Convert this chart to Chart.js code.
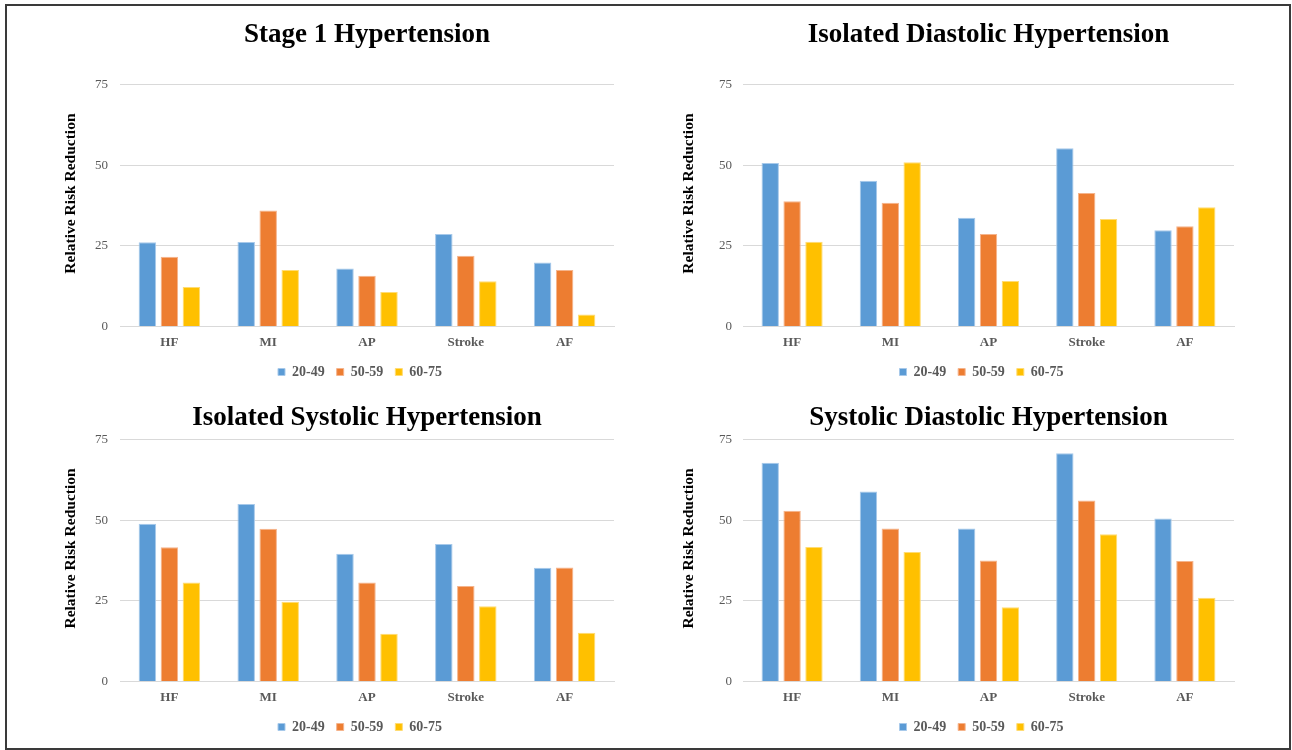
<!DOCTYPE html>
<html>
<head>
<meta charset="utf-8">
<script src="https://cdn.jsdelivr.net/npm/chart.js@4.4.0/dist/chart.umd.min.js"></script>
<style>
  body { margin: 0; background: #fff; width: 1292px; height: 750px; overflow: hidden; position: relative; }
  #frame { position: absolute; left: 5px; top: 4px; width: 1282px; height: 742px; border: 2px solid #3a3a3a; }
  .cell { position: absolute; width: 630px; }
</style>
</head>
<body>
<div id="frame"></div>
<div class="cell" style="left:10px; top:10px; height:379px;"><canvas id="c1"></canvas></div>
<div class="cell" style="left:633px; top:10px; height:379px;"><canvas id="c2"></canvas></div>
<div class="cell" style="left:10px; top:372px; height:372px;"><canvas id="c3"></canvas></div>
<div class="cell" style="left:633px; top:372px; height:372px;"><canvas id="c4"></canvas></div>
<script>
const categories = ['HF', 'MI', 'AP', 'Stroke', 'AF'];
const ageGroups = ['20-49', '50-59', '60-75'];
const yTickValues = [0, 25, 50, 75];

// Stage 1 Hypertension
const stage1Age20 = [26.1, 26.2, 18.0, 28.7, 19.8];
const stage1Age50 = [21.6, 36.0, 15.7, 21.9, 17.5];
const stage1Age60 = [12.2, 17.5, 10.7, 14.0, 3.7];

// Isolated Diastolic Hypertension
const idhAge20 = [50.7, 45.2, 33.7, 55.3, 29.8];
const idhAge50 = [38.8, 38.4, 28.7, 41.4, 31.1];
const idhAge60 = [26.3, 50.9, 14.1, 33.3, 37.0];

// Isolated Systolic Hypertension
const ishAge20 = [48.9, 55.0, 39.6, 42.6, 35.2];
const ishAge50 = [41.6, 47.3, 30.7, 29.6, 35.3];
const ishAge60 = [30.7, 24.7, 14.8, 23.3, 15.1];

// Systolic Diastolic Hypertension
const sdhAge20 = [67.8, 58.9, 47.4, 70.7, 50.5];
const sdhAge50 = [52.9, 47.4, 37.5, 56.1, 37.3];
const sdhAge60 = [41.7, 40.1, 23.0, 45.6, 25.9];

const barColors = ['#5B9BD5', '#ED7D31', '#FFC000'];
const barEdges = ['#A7C9EA', '#F5B48C', '#FFDC73'];
const serif = "'Liberation Serif', 'Times New Roman', serif";

// axis title drawn by hand so it can sit a bit above the middle, like the original
const yTitle = {
  id: 'yTitle',
  afterDraw(chart, args, opts) {
    const { ctx, chartArea } = chart;
    ctx.save();
    ctx.translate(opts.x, (chartArea.top + chartArea.bottom) / 2 + opts.shift);
    ctx.rotate(-Math.PI / 2);
    ctx.font = 'bold ' + opts.size + 'px ' + serif;
    ctx.fillStyle = '#000';
    ctx.textAlign = 'center';
    ctx.textBaseline = 'middle';
    ctx.fillText(opts.text, 0, 0);
    ctx.restore();
  }
};

// small horizontal nudge of the legend row
const legendNudge = {
  id: 'legendNudge',
  afterLayout(chart, args, opts) {
    chart.legend.left += opts.dx;
    chart.legend.right += opts.dx;
  }
};

function makeChart(id, title, series, opts) {
  return new Chart(document.getElementById(id), {
    type: 'bar',
    plugins: [yTitle, legendNudge],
    data: {
      labels: categories,
      datasets: ageGroups.map((group, i) => ({
        label: group,
        data: series[i],
        backgroundColor: barColors[i],
        borderColor: barEdges[i],
        borderWidth: 1,
        categoryPercentage: 0.668,
        barPercentage: 0.795
      }))
    },
    options: {
      responsive: true,
      maintainAspectRatio: false,
      animation: false,
      layout: { padding: { left: 0, right: opts.padRight, top: 0, bottom: 0 } },
      plugins: {
        title: {
          display: true,
          text: title,
          fullSize: false,
          color: '#000',
          font: { family: serif, size: 27, weight: 'bold' },
          padding: { top: opts.titleTop, bottom: opts.titleBottom }
        },
        legend: {
          position: 'bottom',
          fullSize: false,
          labels: {
            boxWidth: 7,
            boxHeight: 7,
            padding: 12,
            color: '#595959',
            font: { family: serif, size: 14, weight: 'bold' }
          }
        },
        tooltip: { enabled: false },
        yTitle: { text: 'Relative Risk Reduction', x: opts.axisTitleX, shift: -12, size: 15.5 },
        legendNudge: { dx: -7 }
      },
      scales: {
        x: {
          grid: { display: false, drawTicks: false },
          border: { color: '#d9d9d9' },
          ticks: { color: '#595959', padding: 8, font: { family: serif, size: 13, weight: 'bold' } },
          afterFit: s => { s.height = 26.6; }
        },
        y: {
          min: 0,
          max: 75,
          afterBuildTicks: s => { s.ticks = yTickValues.map(v => ({ value: v })); },
          grid: { color: '#d9d9d9', drawTicks: false },
          border: { display: false },
          ticks: { color: '#595959', padding: opts.tickPad, font: { family: serif, size: 13 } },
          afterFit: s => { s.width = 110; }
        }
      }
    }
  });
}

const topLeft = { padRight: 26, titleTop: 8.8, titleBottom: 33.5, tickPad: 12, axisTitleX: 61 };
const topRight = { padRight: 29, titleTop: 8.8, titleBottom: 33.5, tickPad: 11, axisTitleX: 56 };
const lowLeft = { padRight: 26, titleTop: 29.8, titleBottom: 5.3, tickPad: 12, axisTitleX: 61 };
const lowRight = { padRight: 29, titleTop: 29.8, titleBottom: 5.3, tickPad: 11, axisTitleX: 56 };

makeChart('c1', 'Stage 1 Hypertension', [stage1Age20, stage1Age50, stage1Age60], topLeft);
makeChart('c2', 'Isolated Diastolic Hypertension', [idhAge20, idhAge50, idhAge60], topRight);
makeChart('c3', 'Isolated Systolic Hypertension', [ishAge20, ishAge50, ishAge60], lowLeft);
makeChart('c4', 'Systolic Diastolic Hypertension', [sdhAge20, sdhAge50, sdhAge60], lowRight);
</script>
</body>
</html>
